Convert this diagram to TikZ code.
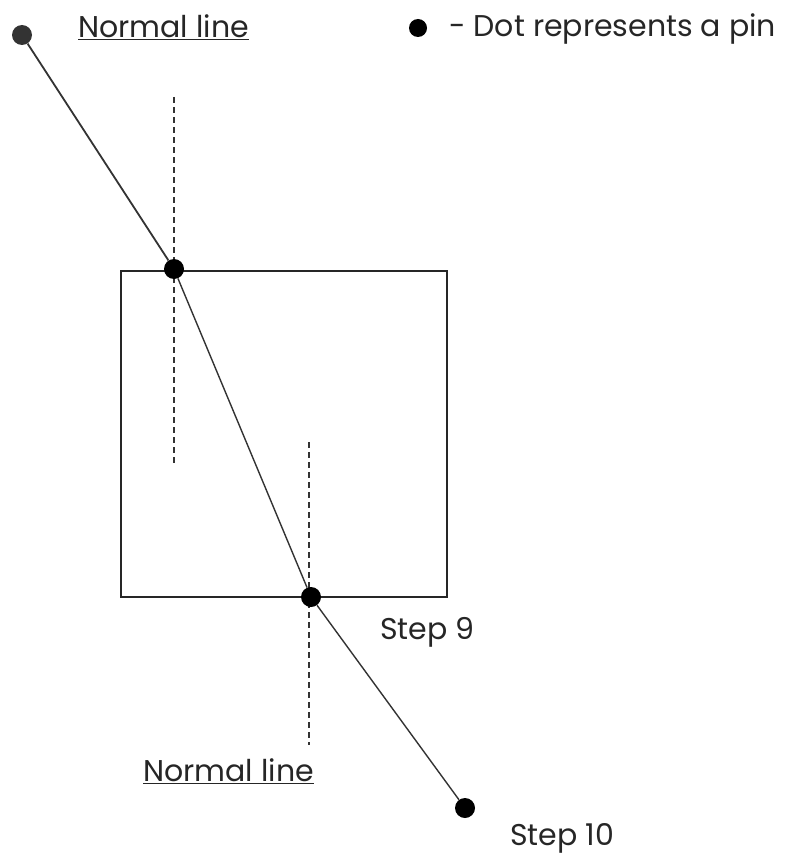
\documentclass[tikz,border=0pt]{standalone}
\usepackage{fontspec}
\setmainfont{Poppins}
\begin{document}
\begin{tikzpicture}[x=1pt,y=-1pt,
  pin/.style={circle,fill=black,inner sep=0pt,minimum size=20pt},
  lbl/.style={font=\fontsize{30}{34}\selectfont,text=black!85,inner sep=0pt},
  edge/.style={draw=black!80,line width=1.4pt},
  normal/.style={draw=black!80,line width=1.5pt,dash pattern=on 6pt off 4pt}]
\useasboundingbox (0,0) rectangle (785,856);
\draw[draw=black!85,line width=1.5pt] (121,271) rectangle (447,597);
\draw[normal] (174,97) -- (174,465);
\draw[normal] (309,442) -- (309,745);
\node[pin,fill=black!80] (p0) at (22,35) {};
\node[pin] (p1) at (174,269) {};
\node[pin] (p2) at (311,597) {};
\node[pin] (p3) at (465,808) {};
\draw[edge,line width=1.8pt] (p0) -- (p1);
\draw[edge] (p1) -- (p2);
\draw[edge] (p2) -- (p3);
\node[pin,minimum size=18pt] (leg) at (418,28) {};
\node[lbl,anchor=west] (legt) at (449,29) {- Dot represents a pin};
\node[lbl,anchor=west] (n1) at (78,27) {\underline{Normal line}};
\node[lbl,anchor=west] (n2) at (143,771) {\underline{Normal line}};
\node[lbl,anchor=west] (s9) at (380,632) {Step 9};
\node[lbl,anchor=west] (s10) at (510,838) {Step 10};
\end{tikzpicture}
\end{document}
